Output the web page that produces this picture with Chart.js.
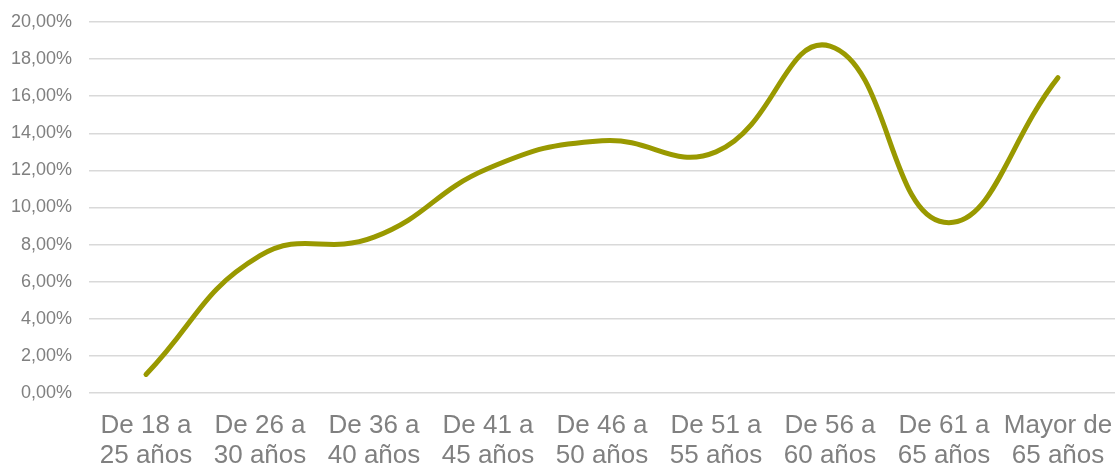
<!DOCTYPE html>
<html>
<head>
<meta charset="utf-8">
<script src="https://cdn.jsdelivr.net/npm/chart.js@4"></script>
<style>
  html, body { margin: 0; padding: 0; background: #fff; }
  #wrap { width: 1117px; height: 466px; }
</style>
</head>
<body>
<div id="wrap"><canvas id="ageChart"></canvas></div>
<script>
const categories = [
    ['De 18 a', '25 años'],
    ['De 26 a', '30 años'],
    ['De 36 a', '40 años'],
    ['De 41 a', '45 años'],
    ['De 46 a', '50 años'],
    ['De 51 a', '55 años'],
    ['De 56 a', '60 años'],
    ['De 61 a', '65 años'],
    ['Mayor de', '65 años']
];
const shares = [1.0, 7.4, 8.4, 12.1, 13.6, 13.0, 18.7, 9.2, 17.0];
const yTicks = [0, 2, 4, 6, 8, 10, 12, 14, 16, 18, 20];

document.addEventListener('DOMContentLoaded', () => {
    initChart();
});

function initChart() {
    const ctx = document.getElementById('ageChart')?.getContext('2d');
    if (!ctx) return;

    new Chart(ctx, {
        type: 'line',
        data: {
            labels: categories,
            datasets: [{
                data: shares,
                borderColor: '#999900',
                borderWidth: 5,
                tension: 0.45,
                pointRadius: 0,
                borderCapStyle: 'round',
                fill: false
            }]
        },
        options: getChartOptions()
    });
}

function getChartOptions() {
    return {
        responsive: true,
        maintainAspectRatio: false,
        animation: false,
        layout: { padding: { top: 22, right: 2, left: 0, bottom: 0 } },
        plugins: {
            legend: { display: false },
            tooltip: { enabled: false }
        },
        scales: {
            x: {
                offset: true,
                grid: { display: false, drawTicks: false },
                border: { display: false },
                ticks: {
                    color: '#808080',
                    font: { family: 'Liberation Sans, Arial, sans-serif', size: 26, lineHeight: 1.18 },
                    padding: 17,
                    maxRotation: 0,
                    autoSkip: false
                },
                afterFit: (scale) => {
                    scale.height = 73;
                    scale.paddingLeft = 0;
                    scale.paddingRight = 0;
                }
            },
            y: {
                min: 0,
                max: 20,
                afterBuildTicks: (scale) => {
                    scale.ticks = yTicks.map(v => ({ value: v }));
                },
                grid: { color: '#d9d9d9', lineWidth: 1.5, drawTicks: false },
                border: { display: false },
                ticks: {
                    color: '#808080',
                    font: { family: 'Liberation Sans, Arial, sans-serif', size: 18 },
                    padding: 17,
                    callback: (v) => v.toFixed(2).replace('.', ',') + '%'
                },
                afterFit: (scale) => {
                    scale.width = 89;
                    scale.paddingTop = 0;
                    scale.paddingBottom = 0;
                }
            }
        }
    };
}
</script>
</body>
</html>
